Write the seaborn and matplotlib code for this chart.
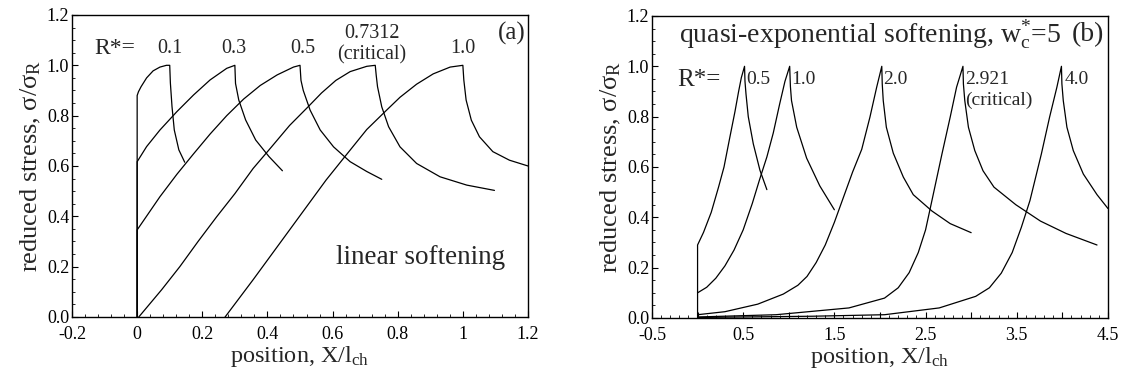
import matplotlib
matplotlib.use("Agg")
import matplotlib.pyplot as plt
import matplotlib.ticker as mticker
import seaborn as sns
import pandas as pd

# (a) linear softening
lin_x_01 = [0, 0, 0.004, 0.012, 0.029, 0.049, 0.07, 0.09, 0.1, 0.102, 0.107, 0.114, 0.128, 0.146]
lin_y_01 = [0, 0.88, 0.895, 0.915, 0.95, 0.978, 0.993, 1.0, 1.0, 0.93, 0.836, 0.743, 0.664, 0.615]
lin_x_03 = [0, 0, 0.029, 0.07, 0.122, 0.173, 0.224, 0.275, 0.3,
            0.302, 0.312, 0.333, 0.364, 0.405, 0.446]
lin_y_03 = [0, 0.617, 0.677, 0.743, 0.816, 0.882, 0.942, 0.988, 1.0,
            0.928, 0.862, 0.783, 0.703, 0.637, 0.581]
lin_x_05 = [0, 0, 0.07, 0.122, 0.173, 0.224, 0.275, 0.327, 0.378, 0.43, 0.48, 0.5,
            0.503, 0.51, 0.531, 0.562, 0.603, 0.654, 0.705, 0.751]
lin_y_05 = [0, 0.346, 0.478, 0.567, 0.648, 0.727, 0.80, 0.866, 0.92, 0.962, 0.993, 1.0,
            0.94, 0.90, 0.822, 0.743, 0.676, 0.617, 0.578, 0.547]
lin_x_07 = [0.005, 0.075, 0.131, 0.187, 0.244, 0.30, 0.356, 0.412, 0.468, 0.524, 0.566, 0.61, 0.654,
            0.705, 0.731, 0.734, 0.738, 0.751, 0.772, 0.807, 0.858, 0.93, 1.012, 1.097]
lin_y_07 = [0, 0.108, 0.20, 0.30, 0.398, 0.49, 0.59, 0.675, 0.761, 0.834, 0.89, 0.94, 0.975,
            0.996, 1.0, 0.96, 0.915, 0.835, 0.756, 0.676, 0.61, 0.557, 0.524, 0.503]
lin_x_10 = [0.27, 0.356, 0.412, 0.468, 0.524, 0.58, 0.637, 0.705, 0.766, 0.807, 0.858, 0.909, 0.961,
            1.0, 1.003, 1.01, 1.026, 1.051, 1.092, 1.143, 1.2]
lin_y_10 = [0, 0.148, 0.247, 0.346, 0.445, 0.544, 0.636, 0.745, 0.822, 0.873, 0.925, 0.966, 0.993,
            1.0, 0.941, 0.862, 0.782, 0.716, 0.657, 0.623, 0.6]

# (b) quasi-exponential softening
exp_x_05 = [0, 0, 0.065, 0.15, 0.23, 0.29, 0.355, 0.41, 0.45, 0.48, 0.515,
            0.52, 0.531, 0.556, 0.611, 0.684, 0.76]
exp_y_05 = [0, 0.29, 0.34, 0.42, 0.52, 0.60, 0.72, 0.82, 0.90, 0.955, 1.0,
            0.94, 0.89, 0.80, 0.692, 0.587, 0.51]
exp_x_10 = [0, 0.1, 0.2, 0.3, 0.4, 0.5, 0.6, 0.68, 0.76, 0.83, 0.9, 0.958, 1.01,
            1.018, 1.03, 1.087, 1.196, 1.34, 1.5]
exp_y_10 = [0.1, 0.122, 0.158, 0.207, 0.27, 0.35, 0.455, 0.55, 0.64, 0.735, 0.85, 0.94, 1.0,
            0.92, 0.864, 0.758, 0.635, 0.525, 0.43]
exp_x_20 = [0, 0.3, 0.66, 0.94, 1.1, 1.2, 1.3, 1.4, 1.5, 1.6, 1.7, 1.8, 1.89, 1.964, 2.02,
            2.025, 2.036, 2.07, 2.146, 2.256, 2.365, 2.57, 2.77, 3.0]
exp_y_20 = [0.013, 0.025, 0.055, 0.095, 0.13, 0.165, 0.22, 0.29, 0.38, 0.48, 0.58, 0.67, 0.798, 0.917, 1.0,
            0.93, 0.864, 0.758, 0.655, 0.56, 0.49, 0.425, 0.375, 0.339]
exp_x_29 = [0, 0.86, 1.66, 2.05, 2.2, 2.32, 2.42, 2.5, 2.57, 2.68, 2.77, 2.84, 2.91,
            2.915, 2.93, 2.97, 3.04, 3.13, 3.25, 3.49, 3.76, 4.04, 4.38]
exp_y_29 = [0.004, 0.013, 0.04, 0.079, 0.12, 0.18, 0.26, 0.35, 0.467, 0.652, 0.798, 0.917, 1.0,
            0.93, 0.864, 0.758, 0.665, 0.585, 0.52, 0.45, 0.385, 0.336, 0.29]
exp_x_40 = [0, 1.26, 2.05, 2.65, 3.05, 3.2, 3.33, 3.45, 3.55, 3.645, 3.77, 3.86, 3.94, 3.99,
            3.995, 4.01, 4.05, 4.12, 4.23, 4.38, 4.5]
exp_y_40 = [0.002, 0.007, 0.013, 0.04, 0.086, 0.12, 0.178, 0.26, 0.36, 0.467, 0.652, 0.798, 0.917, 1.0,
            0.93, 0.864, 0.758, 0.665, 0.572, 0.49, 0.435]

lin_curves = [(lin_x_01, lin_y_01), (lin_x_03, lin_y_03), (lin_x_05, lin_y_05),
              (lin_x_07, lin_y_07), (lin_x_10, lin_y_10)]
exp_curves = [(exp_x_05, exp_y_05), (exp_x_10, exp_y_10), (exp_x_20, exp_y_20),
              (exp_x_29, exp_y_29), (exp_x_40, exp_y_40)]

sns.set_theme(style="ticks")
plt.rcParams["font.family"] = ["Liberation Serif", "DejaVu Serif"]
plt.rcParams["mathtext.fontset"] = "custom"
plt.rcParams["mathtext.rm"] = "Liberation Serif"
plt.rcParams["mathtext.it"] = "Liberation Serif:italic"
plt.rcParams["xtick.direction"] = "in"
plt.rcParams["ytick.direction"] = "in"
plt.rcParams["axes.linewidth"] = 1.0

fig = plt.figure(figsize=(11.27, 3.86), dpi=100)
ax1 = fig.add_axes([0.0639, 0.1788, 0.4046, 0.7824])
ax2 = fig.add_axes([0.5785, 0.1762, 0.4046, 0.7824])


def draw(ax, curves):
    for xs, ys in curves:
        df = pd.DataFrame({"x": xs, "y": ys})
        sns.lineplot(data=df, x="x", y="y", ax=ax, sort=False, estimator=None,
                     color="black", lw=0.9)
    ax.set_ylim(0, 1.2)
    ax.yaxis.set_major_locator(mticker.MultipleLocator(0.2))
    ax.yaxis.set_minor_locator(mticker.MultipleLocator(0.05))
    ax.yaxis.set_major_formatter(mticker.FormatStrFormatter("%.1f"))
    ax.tick_params(which="major", length=4, width=0.8, labelsize=13, colors="black")
    ax.tick_params(axis="x", which="major", pad=6.5)
    ax.tick_params(axis="y", which="major", pad=2)
    ax.tick_params(which="minor", length=2.5, width=0.7)
    ax.set_ylabel(r"reduced stress, σ/σ$_\mathrm{R}$", fontsize=19, labelpad=3)
    ax.set_xlabel(r"position, X/l$_\mathrm{ch}$", fontsize=17.5, labelpad=1)
    for s in ax.spines.values():
        s.set_color("black")


draw(ax1, lin_curves)
ax1.set_xlim(-0.2, 1.2)
ax1.xaxis.set_major_locator(mticker.MultipleLocator(0.2))
ax1.xaxis.set_minor_locator(mticker.MultipleLocator(0.04))
ax1.xaxis.set_major_formatter(mticker.FuncFormatter(
    lambda v, p: "0" if abs(v) < 1e-9 else ("1" if abs(v - 1) < 1e-9 else f"{v:.1f}")))

ax1.text(-0.13, 1.065, "R*=", fontsize=17, va="center", ha="left")
for xv, lab in [(0.1, "0.1"), (0.296, "0.3"), (0.51, "0.5"), (1.0, "1.0")]:
    ax1.text(xv, 1.065, lab, fontsize=14.5, ha="center", va="center")
ax1.text(0.72, 1.125, "0.7312", fontsize=14.5, ha="center", va="center")
ax1.text(0.72, 1.04, "(critical)", fontsize=14.5, ha="center", va="center")
ax1.text(1.15, 1.125, "(a)", fontsize=18, ha="center", va="center")
ax1.text(0.87, 0.235, "linear softening", fontsize=19.5, ha="center", va="center")

draw(ax2, exp_curves)
ax2.set_xlim(-0.5, 4.5)
ax2.set_xticks([-0.5, 0.0, 0.5, 1.0, 1.5, 2.0, 2.5, 3.0, 3.5, 4.0, 4.5])
ax2.set_xticklabels(["-0.5", "", "0.5", "", "1.5", "", "2.5", "", "3.5", "", "4.5"])
ax2.xaxis.set_minor_locator(mticker.MultipleLocator(0.1))

ax2.text(-0.2, 1.125, r"quasi-exponential softening, w$^{*}_{\mathrm{c}}$=5",
         fontsize=20, ha="left", va="center")
ax2.text(4.28, 1.125, "(b)", fontsize=20, ha="center", va="center")
ax2.text(-0.22, 0.945, "R*=", fontsize=18, ha="left", va="center")
for xv, lab in [(0.535, "0.5"), (1.03, "1.0"), (2.03, "2.0"), (2.93, "2.921"), (4.02, "4.0")]:
    ax2.text(xv, 0.948, lab, fontsize=14, ha="left", va="center")
ax2.text(2.93, 0.865, "(critical)", fontsize=14, ha="left", va="center")

fig.savefig("out.png", dpi=100)
